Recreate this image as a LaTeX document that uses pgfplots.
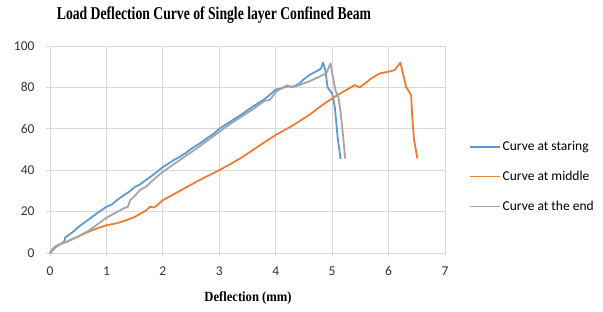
\documentclass[border=0pt]{standalone}
\usepackage{fontspec}
\setmainfont{Liberation Serif}
\newfontfamily\calibri{Carlito}
\usepackage{graphicx}
\usepackage{pgfplots}
\pgfplotsset{compat=1.18}
\definecolor{cblue}{HTML}{5B9BD5}
\definecolor{corange}{HTML}{ED7D31}
\definecolor{cgray}{HTML}{A5A5A5}
\definecolor{gridc}{HTML}{D9D9D9}
\begin{document}
\begin{tikzpicture}
\path[use as bounding box] (-50pt,-58pt) rectangle (553pt,253pt);
\begin{axis}[
  at={(0,0)}, anchor=south west,
  scale only axis, width=395pt, height=207pt,
  xmin=0, xmax=7, ymin=0, ymax=100,
  xtick={0,...,7}, ytick={0,20,...,100},
  grid=major,
  major grid style={draw=gridc, line width=0.8pt},
  axis lines=left,
  axis line style={-, draw=gridc, line width=0.8pt},
  tick style={draw=gridc, line width=0.8pt},
  tick align=outside, major tick length=4pt,
  ticklabel style={font=\calibri\fontsize{13.5}{15}\selectfont, text=black!80},
  /pgf/number format/assume math mode=true,
  xticklabel style={yshift=-6pt},
  yticklabel style={xshift=-8pt},
  legend style={draw=none, fill=none, at={(axis description cs:1.06,0.55)}, anchor=north west,
    font=\calibri\fontsize{13.5}{15}\selectfont, row sep=15pt, inner sep=0pt},
  legend cell align=left,
  legend image code/.code={\draw[#1, line width=1.8pt] (0pt,0pt) -- (30pt,0pt);},
  every axis plot/.append style={line width=1.8pt, line join=round},
  clip=false,
]
\addplot[cblue] coordinates {
(0,0) (0.05,2) (0.1,3.2) (0.2,4.6) (0.25,5.5) (0.27,7.5) (0.4,10) (0.5,12.5) (0.6,14.5) (0.7,16.5) (0.8,18.5) (0.9,20.5) (1.0,22.3) (1.1,23.5) (1.2,25.8) (1.3,27.8) (1.4,29.5) (1.5,31.8) (1.6,33.2) (1.7,35.3) (1.8,37.2) (1.9,39.3) (2.0,41.5) (2.1,43.2) (2.2,45) (2.3,46.5) (2.4,48.2) (2.5,50.3) (2.6,52) (2.7,53.8) (2.8,55.8) (2.9,57.6) (3.0,60) (3.1,61.8) (3.2,63.5) (3.3,65.3) (3.4,67) (3.5,69) (3.6,70.8) (3.7,72.6) (3.8,74.3) (3.9,76.5) (4.0,79) (4.1,79.5) (4.2,80.5) (4.3,80.3) (4.4,81.5) (4.5,84) (4.6,86) (4.7,87.5) (4.8,89) (4.84,92) (4.88,88) (4.92,80) (5.0,77) (5.05,70) (5.1,55) (5.15,45.5)
};
\addlegendentry{Curve at staring}
\addplot[corange] coordinates {
(0,0) (0.1,2.8) (0.2,4.5) (0.3,5.5) (0.5,8) (0.7,10.5) (0.9,12.5) (1.0,13.4) (1.2,14.5) (1.4,16.3) (1.5,17.4) (1.6,19) (1.7,20.5) (1.77,22.3) (1.85,22) (2.0,25.5) (2.2,28.5) (2.4,31.5) (2.5,33) (2.6,34.5) (2.8,37.3) (3.0,40) (3.2,43) (3.4,46.2) (3.6,49.8) (3.8,53.5) (4.0,57) (4.2,60) (4.4,63.3) (4.6,66.8) (4.8,71) (5.0,74.7) (5.2,78) (5.4,81.1) (5.49,80) (5.6,82.3) (5.7,84.5) (5.85,86.8) (6.0,87.6) (6.11,88.4) (6.21,92) (6.31,80.3) (6.4,76.3) (6.42,65.8) (6.45,55) (6.51,45.7)
};
\addlegendentry{Curve at middle}
\addplot[cgray] coordinates {
(0,0) (0.1,3) (0.2,4.5) (0.3,5.5) (0.5,8) (0.6,9.5) (0.7,11) (0.8,13) (0.9,15) (1.0,17) (1.1,18.5) (1.2,20) (1.3,21.5) (1.38,22.3) (1.42,25.5) (1.5,27.5) (1.6,30.5) (1.7,32) (1.8,34.5) (1.9,37) (2.0,39.2) (2.2,43) (2.4,46.8) (2.6,50.5) (2.8,54.5) (3.0,58.5) (3.2,62.5) (3.4,66) (3.6,69.5) (3.8,73.5) (3.9,74) (4.0,77.8) (4.1,79.5) (4.2,81) (4.3,80) (4.4,81) (4.6,83) (4.8,85.5) (4.9,87) (4.97,91.6) (5.02,84) (5.06,78.5) (5.11,75.5) (5.15,68) (5.2,55) (5.23,45.6)
};
\addlegendentry{Curve at the end}
\end{axis}
\node[anchor=center] at (164pt,238pt) {\scalebox{0.76}[1]{\bfseries\fontsize{18}{20}\selectfont Load Deflection Curve of Single layer Confined Beam}};
\node[anchor=center] at (198pt,-45pt) {\scalebox{0.9}[1]{\bfseries\fontsize{14}{16}\selectfont Deflection (mm)}};
\end{tikzpicture}
\end{document}
